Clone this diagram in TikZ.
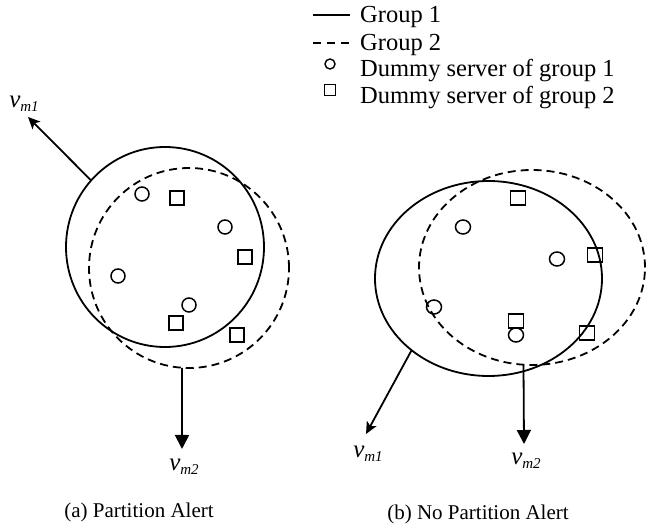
\documentclass[tikz,border=0pt]{standalone}
\usepackage{fontspec}
\setmainfont{Liberation Serif}
\usetikzlibrary{arrows.meta,shapes.geometric}
\newcommand\vsub[1]{{\fontsize{25}{28}\selectfont\itshape v}\raisebox{-3.5pt}{\fontsize{15}{16}\selectfont\itshape #1}}
\begin{document}
\begin{tikzpicture}[x=1pt,y=-1pt,
  grpone/.style={draw, line width=1.8pt, ellipse, inner sep=0pt, outer sep=0pt},
  grptwo/.style={draw, line width=1.8pt, ellipse, inner sep=0pt, outer sep=0pt, dash pattern=on 8pt off 5pt},
  dumone/.style={draw, line width=1.5pt, ellipse, inner sep=0pt, minimum width=#1, minimum height=14pt},
  dumone/.default=14pt,
  dumtwo/.style={draw, line width=1.5pt, rectangle, inner sep=0pt, minimum width=#1, minimum height=14pt},
  dumtwo/.default=14pt,
  legtext/.style={anchor=base west, inner sep=0pt, font=\fontsize{24.5}{28}\selectfont},
  captext/.style={inner sep=0pt, font=\fontsize{21}{24}\selectfont},
  vlab/.style={inner sep=0pt},
  vecone/.style={line width=1.8pt, -{Stealth[length=12pt, width=11pt, inset=3pt]}},
  vectwo/.style={line width=1.8pt, -{Triangle[length=14pt, width=14pt]}}
]
\useasboundingbox (0,0) rectangle (646,526);

% legend
\coordinate (la1) at (313,15); \coordinate (lb1) at (350,15);
\draw[line width=1.6pt] (la1) -- (lb1);
\node[legtext] (l1) at (360,23) {Group 1};
\coordinate (la2) at (313,43); \coordinate (lb2) at (350,43);
\draw[line width=1.6pt, dash pattern=on 8pt off 6pt] (la2) -- (lb2);
\node[legtext] (l2) at (360,51) {Group 2};
\node[draw, line width=1.4pt, circle, inner sep=0pt, minimum size=10pt] (lc) at (330,64) {};
\node[legtext] (l3) at (360,77) {Dummy server of group 1};
\node[draw, line width=1.4pt, rectangle, inner sep=0pt, minimum size=11pt] (ls) at (330,90) {};
\node[legtext] (l4) at (360,104) {Dummy server of group 2};

% (a)
\node[grpone, minimum width=198pt, minimum height=200pt] (ga1) at (165,247) {};
\node[grptwo, minimum width=200pt, minimum height=200pt] (ga2) at (189,268) {};
\node[dumone] (ac1) at (142,194) {};
\node[dumone] (ac2) at (225,227) {};
\node[dumone] (ac3) at (118,276) {};
\node[dumone] (ac4) at (189,305) {};
\node[dumtwo] (as1) at (177,198) {};
\node[dumtwo] (as2) at (245,257) {};
\node[dumtwo] (as3) at (176,323) {};
\node[dumtwo] (as4) at (237,335) {};
\coordinate (ta1) at (28,117);
\coordinate (ta2) at (182,449);
\draw[vecone] (ga1.138.6) -- (ta1);
\draw[vectwo] (ga2.266) -- (ta2);
\node[vlab] (va1) at (24,104) {\vsub{m1}};
\node[vlab] (va2) at (184,467) {\vsub{m2}};
\node[captext] (capa) at (139,512) {(a) Partition Alert};

% (b)
\node[grpone, minimum width=227pt, minimum height=195pt] (gb1) at (488.5,278.5) {};
\node[grptwo, minimum width=226pt, minimum height=195pt] (gb2) at (532,267.5) {};
\node[dumone=15pt] (bc1) at (463,227) {};
\node[dumone=15pt] (bc2) at (557,259) {};
\node[dumone=15pt] (bc3) at (434,307) {};
\node[dumone=15pt] (bc4) at (516,335) {};
\node[dumtwo=15pt] (bs1) at (518,198) {};
\node[dumtwo=15pt] (bs2) at (595,255) {};
\node[dumtwo=15pt] (bs3) at (516,321) {};
\node[dumtwo=15pt] (bs4) at (587,333) {};
\coordinate (tb1) at (366,434);
\coordinate (tb2) at (524,444);
\draw[vecone] (gb1.223.8) -- (tb1);
\draw[vectwo] (gb2.265.3) -- (tb2);
\node[vlab] (vb1) at (368,454) {\vsub{m1}};
\node[vlab] (vb2) at (526,461) {\vsub{m2}};
\node[captext] (capb) at (478,514) {(b) No Partition Alert};
\end{tikzpicture}
\end{document}
